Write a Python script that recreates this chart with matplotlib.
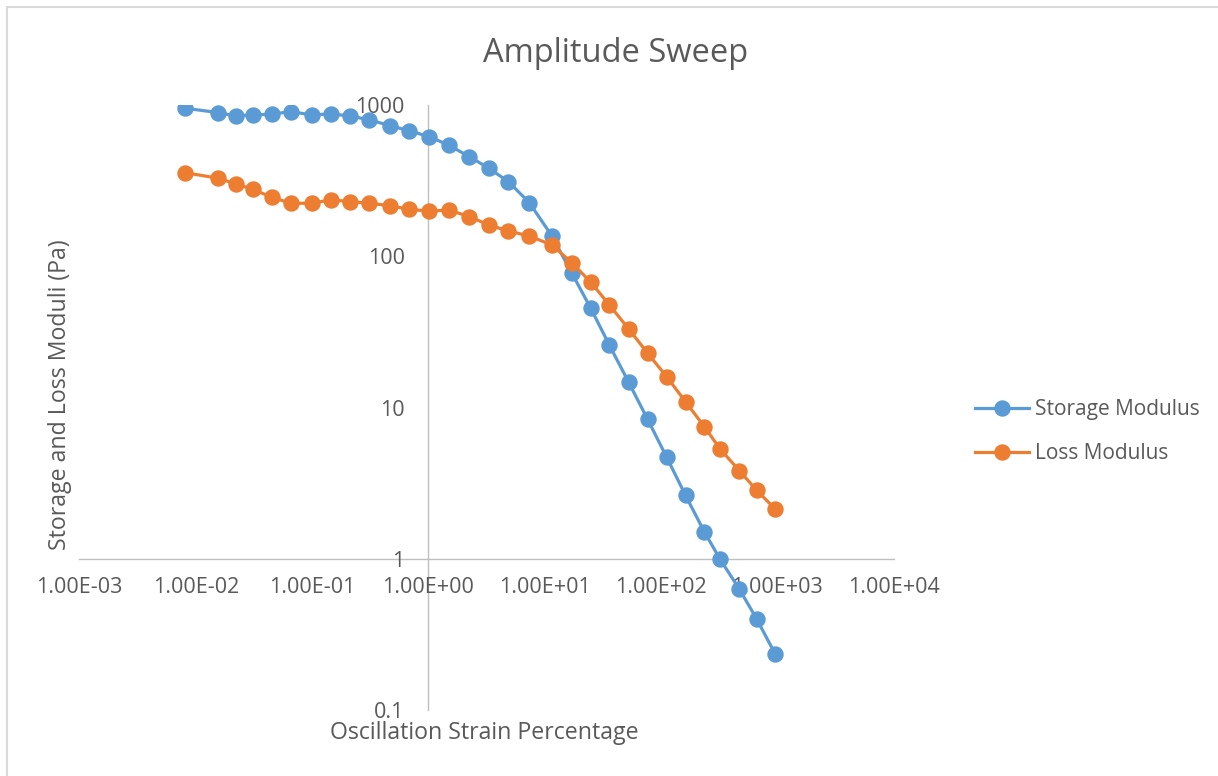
import matplotlib
matplotlib.use("Agg")
import matplotlib.pyplot as plt
from matplotlib.patches import Rectangle
from matplotlib.ticker import FixedLocator, FuncFormatter, NullLocator

# Oscillation strain (%) and the measured moduli (Pa)
strain = [0.0081, 0.0156, 0.0221, 0.0309, 0.045, 0.0656, 0.0994, 0.145, 0.212,
          0.311, 0.469, 0.687, 1.02, 1.50, 2.25, 3.31, 4.87, 7.39, 11.5, 17.1,
          24.9, 36.0, 52.8, 76.7, 112, 163, 236, 322, 472, 667, 957]
storage_modulus = [952, 891, 847, 860, 869, 904, 860, 873, 847, 797, 731, 674,
                   618, 542, 456, 382, 312, 226, 137, 77.6, 45.4, 25.9, 14.7,
                   8.38, 4.70, 2.62, 1.51, 0.995, 0.631, 0.399, 0.236]
loss_modulus = [357, 328, 301, 277, 246, 224, 224, 236, 230, 224, 216, 204,
                199, 202, 183, 161, 147, 136, 119, 90.7, 67.5, 47.7, 33.1,
                22.9, 16.0, 10.9, 7.48, 5.33, 3.83, 2.83, 2.14]

x_ticks = [1e-3, 1e-2, 1e-1, 1e0, 1e1, 1e2, 1e3, 1e4]
y_ticks = [0.1, 1, 10, 100, 1000]

blue = "#5B9BD5"
orange = "#ED7D31"
grey_text = "#595959"
axis_grey = "#BFBFBF"

plt.rcParams["font.family"] = ["Open Sans", "DejaVu Sans"]

W, H = 1218, 776
fig = plt.figure(figsize=(W / 100, H / 100), dpi=100)
fig.patch.set_facecolor("white")

left, right, top, bottom = 79.4, 893.5, 105, 710
ax = fig.add_axes([left / W, 1 - bottom / H, (right - left) / W, (bottom - top) / H])
ax.set_xscale("log")
ax.set_yscale("log")
ax.set_xlim(1e-3, 1e4)
ax.set_ylim(0.1, 1000)

ax.plot(strain, storage_modulus, color=blue, lw=2.3, marker="o", ms=10.8,
        label="Storage Modulus", zorder=3)
ax.plot(strain, loss_modulus, color=orange, lw=2.3, marker="o", ms=10.8,
        label="Loss Modulus", zorder=3)

# axes cross at (1, 1)
for side in ("top", "right"):
    ax.spines[side].set_visible(False)
ax.spines["left"].set_position(("data", 1))
ax.spines["bottom"].set_position(("data", 1))
for side in ("left", "bottom"):
    ax.spines[side].set_color(axis_grey)
    ax.spines[side].set_linewidth(1.0)
    ax.spines[side].set_zorder(1)

ax.xaxis.set_major_locator(FixedLocator(x_ticks))
ax.yaxis.set_major_locator(FixedLocator(y_ticks))
ax.xaxis.set_minor_locator(NullLocator())
ax.yaxis.set_minor_locator(NullLocator())
ax.xaxis.set_major_formatter(FuncFormatter(lambda v, p: f"{v:.2E}"))
ax.yaxis.set_major_formatter(FuncFormatter(lambda v, p: f"{v:g}"))
ax.tick_params(axis="both", length=0, labelsize=15.5, colors=grey_text)
ax.tick_params(axis="x", pad=13)
ax.tick_params(axis="y", pad=17)
ax.patch.set_alpha(0)

fig.text(616 / W, 1 - 53 / H, "Amplitude Sweep", ha="center", va="center",
         fontsize=23.5, color=grey_text)
fig.text(484 / W, 1 - 733 / H, "Oscillation Strain Percentage", ha="center",
         va="center", fontsize=16.7, color=grey_text)
fig.text(60 / W, 1 - 395 / H, "Storage and Loss Moduli (Pa)", ha="center",
         va="center", rotation=90, fontsize=16.7, color=grey_text)

ax.legend(loc="center left", bbox_to_anchor=(956 / W, 1 - 431.5 / H),
          bbox_transform=fig.transFigure, frameon=False, fontsize=15,
          handlelength=2.6, handletextpad=0.3, labelspacing=1.1,
          labelcolor=grey_text)

# light chart border
fig.patches.append(Rectangle((7 / W, -0.1), 1.2, 1 - 7 / H + 0.1,
                             transform=fig.transFigure, fill=False,
                             edgecolor="#D9D9D9", lw=1.5))

fig.savefig("out.png", dpi=100, facecolor="white")
